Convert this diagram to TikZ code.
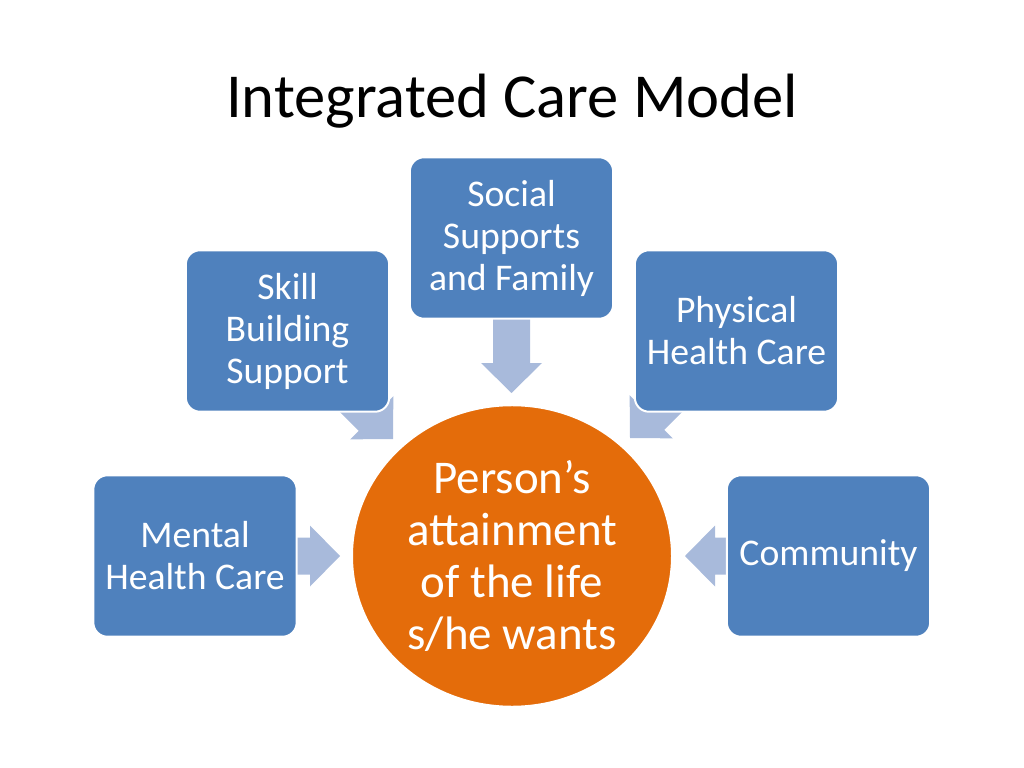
\documentclass[tikz,border=0pt]{standalone}
\usepackage{fontspec}
\setmainfont{Carlito}
\usetikzlibrary{shapes.geometric}
\definecolor{boxblue}{RGB}{79,129,189}
\definecolor{circorange}{RGB}{228,108,10}
\definecolor{arrowblue}{RGB}{168,186,219}
\tikzset{
  box/.style={rectangle, rounded corners=10pt, fill=boxblue, draw=white, line width=1.4pt,
    minimum width=143pt, minimum height=113.5pt, inner sep=0pt, text=white, align=center,
    font=\fontsize{26.5}{29.5}\selectfont},
  hub/.style={ellipse, fill=circorange, draw=white, line width=1.4pt,
    minimum width=225pt, minimum height=212pt, inner sep=0pt, text=white, align=center,
    font=\fontsize{33}{36.6}\selectfont},
  blockarrow/.style={fill=arrowblue},
  title/.style={font=\fontsize{44}{52}\selectfont, text=black, anchor=base, inner sep=0pt}
}
\newcommand\blockarrowat[3]{% tip coordinate name, angle, length
  \fill[blockarrow, shift={(#1)}, rotate=#2]
    (0,0) -- (-30,30.5) -- (-30,18.5) -- (-#3,18.5) -- (-#3,-18.5) -- (-30,-18.5) -- (-30,-30.5) -- cycle;}
\begin{document}
\begin{tikzpicture}[x=0.703125pt, y=-0.703125pt]
\useasboundingbox (0,0) rectangle (1024,768);
% arrow tips
\coordinate (tSocial) at (511.5,393);
\coordinate (tSkill) at (393,439);
\coordinate (tPhys) at (630,438);
\coordinate (tMental) at (340,556);
\coordinate (tComm) at (685,556);
% arrows (drawn first, boxes cover their tails)
\blockarrowat{tSocial}{-90}{85}
\blockarrowat{tSkill}{-45}{95}
\blockarrowat{tPhys}{-135}{95}
\blockarrowat{tMental}{0}{60}
\blockarrowat{tComm}{180}{60}
% title
\node[title] (title) at (512,118) {Integrated Care Model};
% boxes
\node[box] (social) at (511.5,238) {Social\\Supports\\and Family};
\node[box] (skill) at (287.5,331) {Skill\\Building\\Support};
\node[box] (phys) at (736.5,331) {Physical\\Health Care};
\node[box] (mental) at (195,556) {Mental\\Health Care};
\node[box] (comm) at (828.5,556) {Community};
% hub
\node[hub] (person) at (512,556) {Person’s\\attainment\\of the life\\s/he wants};
\end{tikzpicture}
\end{document}
